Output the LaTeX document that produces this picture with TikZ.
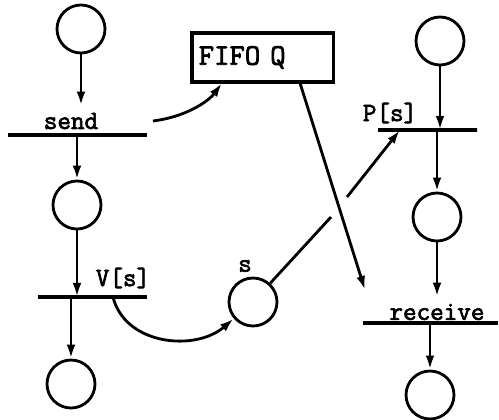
\documentclass[tikz,border=0pt]{standalone}
\usepackage{fontspec}
\usetikzlibrary{arrows.meta}
\newfontfamily\labfont{Latin Modern Mono}[RawFeature={embolden=2.5}]

\begin{document}
\begin{tikzpicture}[x=0.02cm, y=-0.02cm, line width=1.6pt,
    place/.style={draw, circle, line width=1.6pt, minimum size=0.96cm, inner sep=0pt},
    trans/.style={draw, line width=2pt, minimum height=0pt, inner sep=0pt},
    lab/.style={font=\fontsize{15}{18}\selectfont\labfont},
    arc/.style={-{Latex[length=8pt, width=5pt]}}]
    \useasboundingbox (0,0) rectangle (499,419);

    % sender side
    \node[place] (p1) at (81,29) {};
    \node[lab] (sendlab) at (71,121) {send};
    \node[trans, minimum width=2.78cm] (sendbar) at (77.5,135) {};
    \node[place] (p2) at (77,205) {};
    \node[lab] (vlab) at (123,278) {V[s]};
    \node[trans, minimum width=2.18cm] (vbar) at (92.5,297) {};
    \node[place] (p3) at (71,384) {};

    \draw[arc] (p1) -- (p1 |- sendlab.north);
    \draw[arc] (p2 |- sendbar) -- (p2);
    \draw[arc] (p2) -- (p2 |- vbar);
    \draw[arc] (p3 |- vbar) -- (p3);

    % queue and semaphore
    \node[draw, line width=2pt, anchor=west, minimum height=0.98cm, text width=2.56cm,
          inner xsep=0.14cm, align=left, font=\fontsize{17}{20}\selectfont\labfont]
        (fifo) at (190,57.5) {FIFO Q};
    \node[place] (s) at (253,302) {};
    \node[lab] (slab) at (245,266) {s};

    % receiver side
    \node[place] (p4) at (440,41) {};
    \node[lab] (plab) at (390,113) {P[s]};
    \node[trans, minimum width=1.98cm] (pbar) at (427.5,130) {};
    \node[place] (p5) at (437,217) {};
    \node[lab] (rlab) at (437,312) {receive};
    \node[trans, minimum width=2.7cm] (rbar) at (430.5,323) {};
    \node[place] (p6) at (430,395) {};

    \draw[arc] (p4) -- (p4 |- pbar);
    \draw[arc] (p5 |- pbar) -- (p5);
    \draw[arc] (p5) -- (p5 |- rlab.north);
    \draw[arc] (p6 |- rbar) -- (p6);

    % cross arcs
    \coordinate (sendout) at (153,121);
    \coordinate (fifoin) at (222,83);
    \coordinate (fifoout) at (300,83);
    \coordinate (recvin) at (365,290);
    \coordinate (vout) at (113,297);
    \coordinate (hopa) at (331,217);
    \coordinate (hopb) at (347,197);
    \coordinate (pin) at (400,130);

    \draw[arc] (sendout) .. controls (185,117) and (208,102) .. (fifoin);
    \draw[arc] (fifoout) -- (recvin);
    \draw[arc] (vout) .. controls (125,345) and (195,352) .. (s);
    \draw[arc] (s) -- (hopa) (hopb) -- (pin);
\end{tikzpicture}
\end{document}
